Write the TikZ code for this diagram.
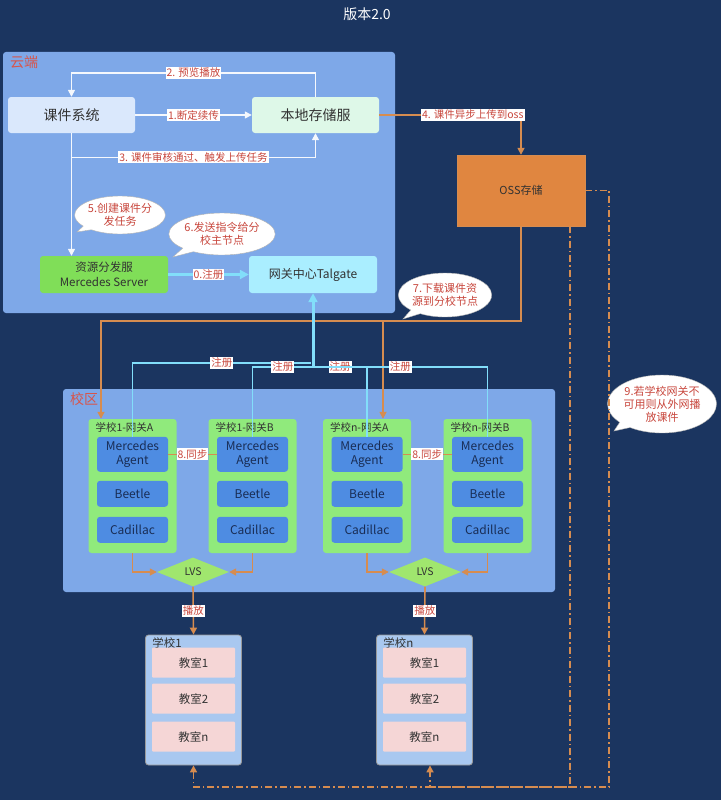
\documentclass[tikz,border=0pt]{standalone}
\usepackage{fontspec}
\setmainfont{Noto Sans CJK SC}
\usepackage{tikz}
\usetikzlibrary{arrows.meta}
\usetikzlibrary{shapes,arrows}

\definecolor{navy}{RGB}{27,53,96}
\definecolor{zoneblue}{RGB}{126,168,232}
\definecolor{coursebox}{RGB}{218,232,252}
\definecolor{storebox}{RGB}{222,248,232}
\definecolor{servergreen}{RGB}{128,222,88}
\definecolor{talcyan}{RGB}{170,238,255}
\definecolor{ossorange}{RGB}{224,134,64}
\definecolor{ossline}{RGB}{214,140,80}
\definecolor{regcyan}{RGB}{130,222,250}
\definecolor{gwgreen}{RGB}{144,234,124}
\definecolor{agentblue}{RGB}{78,140,226}
\definecolor{agenttext}{RGB}{25,45,85}
\definecolor{lvsgreen}{RGB}{160,230,110}
\definecolor{schoolblue}{RGB}{169,200,240}
\definecolor{roompink}{RGB}{245,214,214}
\definecolor{lblred}{RGB}{200,70,60}
\definecolor{zonered}{RGB}{215,85,75}
\definecolor{darktext}{RGB}{50,50,50}

\begin{document}
\begin{tikzpicture}[x=1pt,y=-1pt,>={Triangle[length=7pt,width=7pt]}]
	\def \toprow{115}
	\def \serverrow{274.5}
	\def \gaterow{486}
	\def \lvsrow{572}
	\def \schoolrow{700}
	\tikzstyle{zone}=[rectangle,rounded corners=3pt,fill=zoneblue,inner sep=0pt]
	\tikzstyle{zone-lbl}=[text=zonered,font=\fontsize{14}{16}\selectfont]
	\tikzstyle{box}=[rectangle,rounded corners=3pt,inner sep=0pt,text=darktext,align=center]
	\tikzstyle{gw-node}=[box,fill=gwgreen,minimum width=88pt,minimum height=134pt]
	\tikzstyle{gw-title}=[anchor=west,inner sep=0pt,text=darktext,font=\fontsize{10.5}{12}\selectfont]
	\tikzstyle{agent-node}=[box,fill=agentblue,text=agenttext,minimum width=71pt,minimum height=26pt,font=\fontsize{12}{13.5}\selectfont]
	\tikzstyle{school-node}=[box,fill=schoolblue,draw=gray!80,thick,minimum width=96pt,minimum height=130pt]
	\tikzstyle{room-node}=[box,rounded corners=1pt,fill=roompink,minimum width=83pt,minimum height=30pt,font=\fontsize{11.5}{13}\selectfont]
	\tikzstyle{lvs-node}=[diamond,aspect=2.5,fill=lvsgreen,inner sep=0pt,minimum width=72pt,minimum height=29pt,text=darktext,font=\fontsize{10.5}{12}\selectfont]
	\tikzstyle{flow-lbl}=[fill=white,text=lblred,inner sep=1pt,font=\fontsize{10.5}{12}\selectfont]
	\tikzstyle{bubble}=[ellipse callout,fill=white,draw=gray!60,text=lblred,align=center,inner sep=0pt,font=\fontsize{11}{13}\selectfont]
	\tikzstyle{w-line}=[draw=white!92!zoneblue,line width=1.4pt]
	\tikzstyle{c-line}=[draw=regcyan,line width=1.3pt]
	\tikzstyle{c-thick}=[draw=regcyan,line width=3pt]
	\tikzstyle{o-line}=[draw=ossline,line width=1.6pt]
	\tikzstyle{d-line}=[draw=ossline,line width=1.6pt,dash pattern=on 7pt off 3pt on 1.5pt off 3pt]

	% background
	\fill[navy] (0,0) rectangle (721,800);
	\useasboundingbox (0,0) rectangle (721,800);
	\node[text=white,font=\fontsize{14}{16}\selectfont] (title) at (367,14) {版本2.0};

	% zones
	\node[zone,minimum width=392pt,minimum height=261pt] (cloud) at (199,182.5) {};
	\node[zone-lbl] (cloud-lbl) at (24,62) {云端};
	\node[zone,minimum width=492pt,minimum height=203pt] (campus) at (309,490.5) {};
	\node[zone-lbl] (campus-lbl) at (84,399) {校区};

	% cloud side
	\node[box,fill=coursebox,minimum width=127pt,minimum height=36pt,font=\fontsize{14}{16}\selectfont] (course) at (71.5,\toprow) {课件系统};
	\node[box,fill=storebox,minimum width=127pt,minimum height=36pt,font=\fontsize{14}{16}\selectfont] (local) at (315.5,\toprow) {本地存储服};
	\node[box,fill=servergreen,minimum width=128pt,minimum height=37pt,font=\fontsize{11.5}{15}\selectfont] (server) at (104,\serverrow) {资源分发服\\Mercedes Server};
	\node[box,fill=talcyan,minimum width=128pt,minimum height=37pt,font=\fontsize{12}{14}\selectfont] (talgate) at (313,\serverrow) {网关中心Talgate};
	\node[box,rounded corners=0pt,fill=ossorange,draw=ossline,minimum width=128pt,minimum height=71pt,font=\fontsize{11}{13}\selectfont] (oss) at (521,190.5) {OSS存储};

	% callouts
	\node[bubble,minimum width=86pt,minimum height=38pt,callout absolute pointer={(77,232)}] (note5) at (120,215) {5.创建课件分\\发任务};
	\node[bubble,minimum width=98pt,minimum height=42pt,callout absolute pointer={(173,257)}] (note6) at (222,234) {6.发送指令给分\\校主节点};
	\node[bubble,minimum width=86pt,minimum height=44pt,callout absolute pointer={(403,319)}] (note7) at (445,295) {7.下载课件资\\源到分校节点};
	\node[bubble,minimum width=100pt,minimum height=58pt,callout absolute pointer={(614,431)}] (note9) at (662,404) {9.若学校网关不\\可用则从外网播\\放课件};

	% gateways
	\node[gw-node] (gate1A) at (132.5,\gaterow) {};
	\node[gw-node] (gate1B) at (252.5,\gaterow) {};
	\node[gw-node] (gatenA) at (367,\gaterow) {};
	\node[gw-node] (gatenB) at (487.5,\gaterow) {};
	\node[gw-title] (t1A) at ([xshift=7pt,yshift=-9pt]gate1A.north west) {学校1-网关A};
	\node[gw-title] (t1B) at ([xshift=7pt,yshift=-9pt]gate1B.north west) {学校1-网关B};
	\node[gw-title] (tnA) at ([xshift=7pt,yshift=-9pt]gatenA.north west) {学校n-网关A};
	\node[gw-title] (tnB) at ([xshift=7pt,yshift=-9pt]gatenB.north west) {学校n-网关B};

	\node[agent-node,minimum height=35pt,align=center] (ag1A) at ([yshift=-35.5pt]gate1A.north) {Mercedes\\Agent};
	\node[agent-node] (bt1A) at ([yshift=-75pt]gate1A.north) {Beetle};
	\node[agent-node] (cd1A) at ([yshift=-111pt]gate1A.north) {Cadillac};
	\node[agent-node,minimum height=35pt,align=center] (ag1B) at ([yshift=-35.5pt]gate1B.north) {Mercedes\\Agent};
	\node[agent-node] (bt1B) at ([yshift=-75pt]gate1B.north) {Beetle};
	\node[agent-node] (cd1B) at ([yshift=-111pt]gate1B.north) {Cadillac};
	\node[agent-node,minimum height=35pt,align=center] (agnA) at ([yshift=-35.5pt]gatenA.north) {Mercedes\\Agent};
	\node[agent-node] (btnA) at ([yshift=-75pt]gatenA.north) {Beetle};
	\node[agent-node] (cdnA) at ([yshift=-111pt]gatenA.north) {Cadillac};
	\node[agent-node,minimum height=35pt,align=center] (agnB) at ([yshift=-35.5pt]gatenB.north) {Mercedes\\Agent};
	\node[agent-node] (btnB) at ([yshift=-75pt]gatenB.north) {Beetle};
	\node[agent-node] (cdnB) at ([yshift=-111pt]gatenB.north) {Cadillac};

	\node[lvs-node] (lvs1) at (193,\lvsrow) {LVS};
	\node[lvs-node] (lvsn) at (425,\lvsrow) {LVS};

	% schools
	\node[school-node] (school1) at (193.5,\schoolrow) {};
	\node[school-node] (schooln) at (424.5,\schoolrow) {};
	\node[gw-title,font=\fontsize{11.5}{13}\selectfont] (s1-lbl) at ([xshift=7pt,yshift=-8pt]school1.north west) {学校1};
	\node[gw-title,font=\fontsize{11.5}{13}\selectfont] (sn-lbl) at ([xshift=7pt,yshift=-8pt]schooln.north west) {学校n};
	\node[room-node] (r11) at ([yshift=-28pt]school1.north) {教室1};
	\node[room-node] (r12) at ([yshift=-64pt]school1.north) {教室2};
	\node[room-node] (r13) at ([yshift=-102pt]school1.north) {教室n};
	\node[room-node] (rn1) at ([yshift=-28pt]schooln.north) {教室1};
	\node[room-node] (rn2) at ([yshift=-64pt]schooln.north) {教室2};
	\node[room-node] (rn3) at ([yshift=-102pt]schooln.north) {教室n};

	% helper points
	\coordinate (hub-l) at (311,363);
	\coordinate (hub-r) at (313,367);
	\coordinate (oss-turn) at (521,321);
	\coordinate (dl1) at ([xshift=-31.5pt]gate1A.north);
	\coordinate (dln) at ([xshift=16pt]gatenA.north);
	\coordinate (low-r) at (609,787);
	\coordinate (low-m) at (570,787);

	% cloud flows
	\draw[w-line,->] (course) -- node[flow-lbl] {1.断定续传} (local);
	\draw[w-line,->] (local.north) -- ++(0,-24) -| node[flow-lbl,pos=0.25] {2. 预览播放} (course.north);
	\draw[w-line,->] (course.south) -- ++(0,24) -| node[flow-lbl,pos=0.25] {3. 课件审核通过、触发上传任务} (local.south);
	\draw[w-line,->] (course.south) -- (course.south |- server.north);
	\draw[c-thick,->,>={Triangle[length=9pt,width=9pt]}] (server) -- node[flow-lbl] {0.注册} (talgate);

	% oss flows
	\draw[o-line,->] (local.east) -| node[flow-lbl,pos=0.33] {4. 课件异步上传到oss} (oss.north);
	\draw[o-line,->] (oss.south) -- (oss-turn) -| (dl1);
	\draw[o-line,->] (oss-turn -| dln) -- (dln);
	\draw[d-line,->] (oss.east) -| (low-r) -| (school1.south);
	\draw[d-line,->] ([xshift=49pt]oss.south) -- (low-m) -| ([xshift=5.5pt]schooln.south);

	% registration
	\draw[c-line] (ag1A.north) |- node[flow-lbl,pos=0.75] {注册} (hub-l);
	\draw[c-line] (ag1B.north) |- node[flow-lbl,pos=0.75] {注册} (hub-r);
	\draw[c-line] (agnA.north) |- node[flow-lbl,pos=0.75] {注册} (hub-r);
	\draw[c-line] (agnB.north) |- node[flow-lbl,pos=0.75] {注册} (hub-r);
	\draw[c-thick,->,>={Triangle[length=9pt,width=9pt]}] (hub-r) -- (talgate.south);

	% sync and play
	\draw[o-line] (ag1A) -- node[flow-lbl] {8.同步} (ag1B);
	\draw[o-line] (agnA) -- node[flow-lbl] {8.同步} (agnB);
	\draw[o-line,->] (gate1A.south) |- (lvs1.west);
	\draw[o-line,->] (gate1B.south) |- (lvs1.east);
	\draw[o-line,->] (gatenA.south) |- (lvsn.west);
	\draw[o-line,->] (gatenB.south) |- (lvsn.east);
	\draw[o-line,->] (lvs1.south) -- node[flow-lbl] {播放} (school1.north);
	\draw[o-line,->] (lvsn.south) -- node[flow-lbl] {播放} (schooln.north);
\end{tikzpicture}
\end{document}
